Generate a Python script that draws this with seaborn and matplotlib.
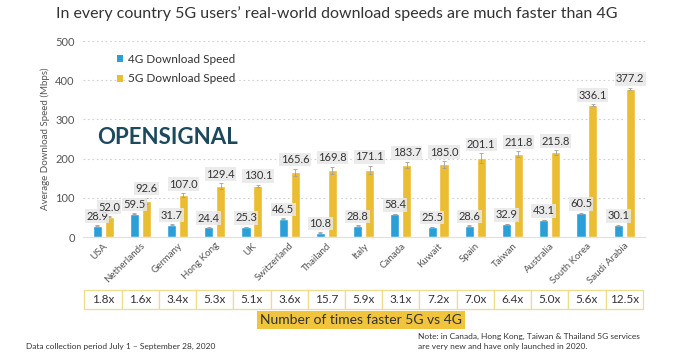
import numpy as np
import pandas as pd
import matplotlib
matplotlib.use("Agg")
import matplotlib.pyplot as plt
import matplotlib.transforms as mtransforms
from matplotlib.patches import Rectangle, Patch
import seaborn as sns

# chart data
countries = ["USA", "Netherlands", "Germany", "Hong Kong", "UK", "Switzerland", "Thailand",
             "Italy", "Canada", "Kuwait", "Spain", "Taiwan", "Australia", "South Korea", "Saudi Arabia"]
speed_4g = [28.9, 59.5, 31.7, 24.4, 25.3, 46.5, 10.8, 28.8, 58.4, 25.5, 28.6, 32.9, 43.1, 60.5, 30.1]
speed_5g = [52.0, 92.6, 107.0, 129.4, 130.1, 165.6, 169.8, 171.1, 183.7, 185.0, 201.1, 211.8, 215.8, 336.1, 377.2]
err_4g = [0.8, 0.8, 0.8, 0.8, 0.8, 0.8, 0.8, 0.8, 0.8, 0.8, 0.8, 0.8, 0.8, 0.8, 0.8]
err_5g = [1.5, 8.0, 5.0, 8.0, 3.0, 9.0, 10.0, 10.0, 8.0, 8.0, 12.0, 7.0, 6.0, 3.0, 3.0]
ratios = ["1.8x", "1.6x", "3.4x", "5.3x", "5.1x", "3.6x", "15.7", "5.9x", "3.1x",
          "7.2x", "7.0x", "6.4x", "5.0x", "5.6x", "12.5x"]
series = ["4G Download Speed", "5G Download Speed"]

df = pd.DataFrame({
    "country": countries * 2,
    "speed": speed_4g + speed_5g,
    "network": [series[0]] * 15 + [series[1]] * 15,
})

blue = "#2b9fd8"
yellow = "#ebbd32"
grey_txt = "#555555"

sns.set_style("white")
plt.rcParams["font.family"] = ["Lato", "DejaVu Sans"]

fig = plt.figure(figsize=(6.8, 3.56), dpi=100)
ax = fig.add_axes([83/680, 1-237/356, (645-83)/680, (237-41)/356])

sns.barplot(data=df, x="country", y="speed", hue="network", palette=[blue, yellow],
            width=0.64, gap=0.24, errorbar=None, ax=ax, saturation=1, legend=False)

ax.set_xlim(-0.54, 14.56)
ax.set_ylim(0, 500)
ax.set_yticks(range(0, 501, 100))
ax.yaxis.grid(True, linestyle=(0, (1.5, 2.5)), color="#d0d0d0", linewidth=0.8)
ax.set_axisbelow(True)
for s in ["top", "right", "left"]:
    ax.spines[s].set_visible(False)
ax.spines["bottom"].set_color("#e0e0e0")
ax.tick_params(axis="both", length=0, labelcolor=grey_txt)
ax.tick_params(axis="y", labelsize=8, pad=6)
ax.tick_params(axis="x", labelsize=7, pad=3)
plt.setp(ax.get_xticklabels(), rotation=45, ha="right", rotation_mode="anchor")
ax.set_xlabel("")
ax.set_ylabel("Average Download Speed (Mbps)", fontsize=7, color=grey_txt, labelpad=4)

# error bars and value labels
for cont, errs in zip(ax.containers, [err_4g, err_5g]):
    for bar, e in zip(cont, errs):
        cx = bar.get_x() + bar.get_width() / 2
        h = bar.get_height()
        ax.errorbar(cx, h, yerr=e, color="#a0a0a0", lw=0.6, capsize=1.5, capthick=0.6)
        ax.annotate(f"{h:.1f}", (cx, h + e), xytext=(0, 6.5), textcoords="offset points",
                    ha="center", va="center", fontsize=8, color="#333333",
                    bbox=dict(boxstyle="square,pad=0.12", fc="#e8e8e8", ec="none", alpha=0.85))

handles = [Patch(fc=blue, ec="none"), Patch(fc=yellow, ec="none")]
leg = ax.legend(handles, series, loc="upper left", bbox_to_anchor=(106/680, 1-43/356),
                bbox_transform=fig.transFigure, frameon=False, fontsize=8.5,
                handlelength=0.55, handleheight=0.55, handletextpad=0.4, labelspacing=0.75)
for t in leg.get_texts():
    t.set_color("#333333")

# logo
fig.text(97/680, 1-138/356, "OPENSIGNAL", fontsize=16, fontweight="bold",
         color="#1c4a5c", ha="left", va="center")

# title
fig.text(337/680, 1-14/356, "In every country 5G users\u2019 real-world download speeds are much faster than 4G",
         fontsize=11.5, color="#333333", ha="center", va="center")

# ratio table
trans = mtransforms.blended_transform_factory(ax.transData, fig.transFigure)
y_top, y_bot = 1-290/356, 1-309/356
for i, r in enumerate(ratios):
    ax.add_patch(Rectangle((i - 0.5, y_bot), 1, y_top - y_bot, transform=trans, clip_on=False,
                           fc="white", ec="#eedd8c", lw=0.9))
    ax.text(i, (y_top + y_bot) / 2, r, transform=trans, ha="center", va="center",
            fontsize=8.5, color="#333333", clip_on=False)

fig.text(361/680, 1-320/356, "Number of times faster 5G vs 4G", fontsize=10, color="#333333",
         ha="center", va="center",
         bbox=dict(boxstyle="square,pad=0.25", fc="#f0c43c", ec="none"))

fig.text(26/680, 1-346/356, "Data collection period July 1 \u2013 September 28, 2020",
         fontsize=6, color="#333333", ha="left", va="center")
fig.text(418/680, 1-336/356, "Note: in Canada, Hong Kong, Taiwan & Thailand 5G services",
         fontsize=6, color="#333333", ha="left", va="center")
fig.text(418/680, 1-346/356, "are very new and have only launched in 2020.",
         fontsize=6, color="#333333", ha="left", va="center")

fig.savefig("out.png", dpi=100)
